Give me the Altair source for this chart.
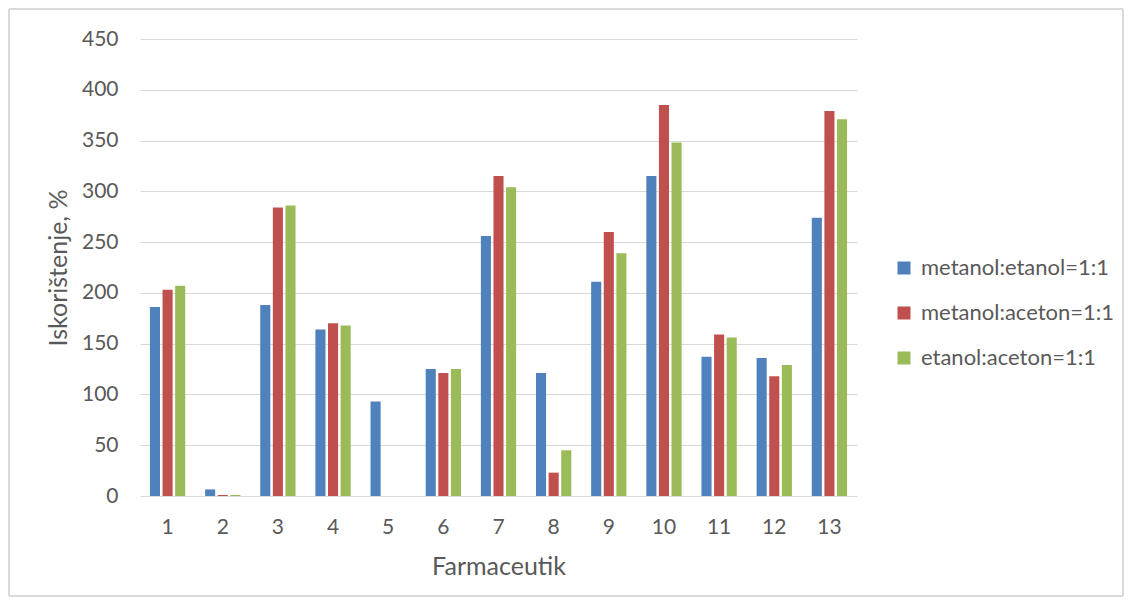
import altair as alt
import pandas as pd

categories = [str(i) for i in range(1, 14)]
series = ["metanol:etanol=1:1", "metanol:aceton=1:1", "etanol:aceton=1:1"]
met_et = [186, 6.5, 188, 164, 93, 125, 256, 121, 211, 315, 137, 136, 274]
met_ac = [203, 1, 284, 170, 0, 121, 315, 23, 260, 385, 159, 118, 379]
et_ac = [207, 1, 286, 168, 0, 125, 304, 45, 239, 348, 156, 129, 371]
colors = ["#4F81BD", "#C0504D", "#9BBB59"]

rows = []
for s, vals in zip(series, [met_et, met_ac, et_ac]):
    for c, v in zip(categories, vals):
        rows.append({"Farmaceutik": c, "serija": s, "vrijednost": v})
df = pd.DataFrame(rows)

W, H = 717, 457
FONT = "Lato"
GRAY = "#595959"

bars = alt.Chart(df).mark_bar().encode(
    x=alt.X("Farmaceutik:N", sort=categories,
            scale=alt.Scale(paddingInner=0.36, paddingOuter=0.18),
            axis=alt.Axis(title="Farmaceutik", labelAngle=0, ticks=False, domain=False,
                          labelPadding=20, titlePadding=17, labelFontSize=21, titleFontSize=25)),
    xOffset=alt.XOffset("serija:N", sort=series, scale=alt.Scale(paddingInner=0.2)),
    y=alt.Y("vrijednost:Q", scale=alt.Scale(domain=[0, 450]),
            axis=alt.Axis(title="Iskorištenje, %", values=list(range(0, 451, 50)),
                          ticks=False, domain=False, labelPadding=22, titlePadding=10,
                          labelFontSize=21, titleFontSize=25, gridColor="#d9d9d9")),
    color=alt.Color("serija:N", sort=series,
                    scale=alt.Scale(domain=series, range=colors),
                    legend=alt.Legend(title=None, orient="none", legendX=753, legendY=218,
                                      symbolType="square", symbolSize=169, symbolStrokeWidth=0,
                                      labelFontSize=22, rowPadding=23, labelOffset=6,
                                      labelLimit=400,
                                      labelColor=GRAY, labelFont=FONT)),
)

border = alt.Chart(df).mark_rect(fill=None, stroke="#d9d9d9", strokeWidth=1).encode(
    x=alt.value(-131), x2=alt.value(W + 266), y=alt.value(-30), y2=alt.value(H + 100)
)

chart = alt.layer(border, bars).properties(
    width=W, height=H,
    autosize=alt.AutoSizeParams(type="none"),
    padding={"left": 132, "top": 31, "right": 268, "bottom": 104},
).configure_view(stroke=None).configure_axis(
    labelFont=FONT, titleFont=FONT, labelColor=GRAY, titleColor=GRAY,
    titleFontWeight="normal",
).configure_axisX(grid=False)

chart.save("out.html", embed_options={"renderer": "svg", "actions": False})
